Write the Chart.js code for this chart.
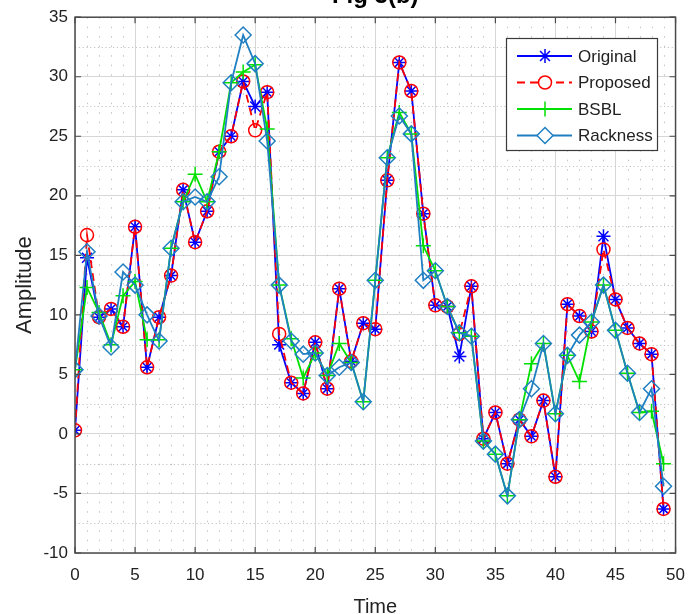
<!DOCTYPE html>
<html>
<head>
<meta charset="utf-8">
<title>Fig 3(b)</title>
<script src="https://cdn.jsdelivr.net/npm/chart.js@4.4.0/dist/chart.umd.min.js"></script>
<style>
    body { margin: 0; background: #fff; }
    #wrap { width: 697px; height: 614px; }
</style>
</head>
<body>
<div id="wrap"><canvas id="sig_chart" width="697" height="614"></canvas></div>
<script>
// sample index 0..49
var time = [];
for (var i = 0; i < 50; i++) time.push(i);

var original = [0.3, 14.8, 9.8, 10.5, 9.0, 17.4, 5.6, 9.8, 13.3, 20.5,
    16.1, 18.7, 23.7, 25.0, 29.6, 27.5, 28.7, 7.5, 4.3, 3.4,
    7.7, 3.8, 12.2, 6.1, 9.3, 8.8, 21.3, 31.2, 28.8, 18.5,
    10.8, 10.7, 6.5, 12.4, -0.4, 1.8, -2.5, 1.2, -0.2, 2.8,
    -3.6, 10.9, 9.9, 8.6, 16.6, 11.3, 8.9, 7.6, 6.7, -6.3];

var proposed = [0.3, 16.7, 9.8, 10.5, 9.0, 17.4, 5.6, 9.8, 13.3, 20.5,
    16.1, 18.7, 23.7, 25.0, 29.6, 25.5, 28.7, 8.4, 4.3, 3.4,
    7.7, 3.8, 12.2, 6.1, 9.3, 8.8, 21.3, 31.2, 28.8, 18.5,
    10.8, 10.7, 8.4, 12.4, -0.4, 1.8, -2.5, 1.2, -0.2, 2.8,
    -3.6, 10.9, 9.9, 8.6, 15.5, 11.3, 8.9, 7.6, 6.7, -6.3];

var bsbl = [5.4, 12.3, 10.2, 7.5, 11.6, 12.8, 7.9, 7.9, 15.6, 19.5,
    21.8, 19.5, 23.7, 29.5, 30.4, 31.0, 25.6, 12.5, 8.0, 4.7,
    6.8, 4.9, 7.6, 6.0, 2.7, 12.9, 23.2, 27.0, 25.2, 15.8,
    13.7, 10.7, 8.5, 8.2, -0.6, -1.7, -5.2, 1.2, 5.9, 7.6,
    1.7, 6.6, 4.4, 9.4, 12.5, 8.7, 5.1, 1.8, 1.9, -2.5];

var rackness = [5.4, 15.3, 9.9, 7.3, 13.6, 12.5, 10.0, 7.8, 15.6, 19.5,
    19.9, 19.5, 21.6, 29.5, 33.5, 31.1, 24.6, 12.5, 7.8, 6.7,
    6.8, 4.9, 5.6, 6.0, 2.7, 12.9, 23.2, 26.7, 25.2, 12.9,
    13.7, 10.7, 8.5, 8.2, -0.6, -1.7, -5.2, 1.2, 3.8, 7.6,
    1.7, 6.6, 8.3, 9.4, 12.5, 8.7, 5.1, 1.8, 3.8, -4.4];

var xTicks = [0, 5, 10, 15, 20, 25, 30, 35, 40, 45, 50];
var yTicks = [-10, -5, 0, 5, 10, 15, 20, 25, 30, 35];

var FONT = "'Liberation Sans', Arial, Helvetica, sans-serif";
var RACK_COLOR = '#1f7fc2';

function toPoints(arr) {
    var pts = [];
    for (var k = 0; k < arr.length; k++) pts.push({x: time[k], y: arr[k]});
    return pts;
}

var series = [
    {label: 'Original', data: original, color: '#0000ff', style: 'star', radius: 7, dash: [], order: 4},
    {label: 'Proposed', data: proposed, color: '#ff0000', style: 'circle', radius: 6.5, dash: [8, 5], order: 3},
    {label: 'BSBL', data: bsbl, color: '#00e000', style: 'cross', radius: 7.5, dash: [], order: 2},
    {label: 'Rackness', data: rackness, color: RACK_COLOR, style: 'rectRot', radius: 8, dash: [], order: 1}
];

var datasets = series.map(function (s) {
    return {
        label: s.label,
        data: toPoints(s.data),
        borderColor: s.color,
        backgroundColor: 'rgba(0,0,0,0)',
        borderWidth: 1.8,
        borderDash: s.dash,
        pointStyle: s.style,
        pointRadius: s.radius,
        pointBorderColor: s.color,
        pointBackgroundColor: 'rgba(0,0,0,0)',
        pointBorderWidth: 1.5,
        tension: 0,
        order: s.order
    };
});

// dotted minor grid, x every 1 and y every 2.5
var minorGrid = {
    id: 'minorGrid',
    beforeDatasetsDraw: function (chart) {
        var ctx = chart.ctx, a = chart.chartArea;
        var xs = chart.scales.x, ys = chart.scales.y;
        ctx.save();
        ctx.lineWidth = 1;
        ctx.strokeStyle = '#c4c4c4';
        ctx.setLineDash([1.5, 8]);
        for (var v = 1; v < 50; v++) {
            if (v % 5 == 0) continue;
            var px = Math.round(xs.getPixelForValue(v)) + 0.5;
            ctx.beginPath();
            ctx.moveTo(px, a.top);
            ctx.lineTo(px, a.bottom);
            ctx.stroke();
        }
        ctx.setLineDash([1.2, 2.6]);
        for (var w = -7.5; w < 35; w += 5) {
            var py = Math.round(ys.getPixelForValue(w)) + 0.5;
            ctx.beginPath();
            ctx.moveTo(a.left, py);
            ctx.lineTo(a.right, py);
            ctx.stroke();
        }
        ctx.restore();
    }
};

// box with inward ticks, legend, title
var frame = {
    id: 'frame',
    afterDraw: function (chart) {
        var ctx = chart.ctx, a = chart.chartArea;
        var xs = chart.scales.x, ys = chart.scales.y;
        ctx.save();
        ctx.strokeStyle = '#4a4a4a';
        ctx.lineWidth = 1.5;
        ctx.strokeRect(a.left, a.top, a.right - a.left, a.bottom - a.top);
        ctx.lineWidth = 1.2;
        ctx.beginPath();
        xTicks.forEach(function (t) {
            var px = xs.getPixelForValue(t);
            ctx.moveTo(px, a.bottom); ctx.lineTo(px, a.bottom - 6);
            ctx.moveTo(px, a.top); ctx.lineTo(px, a.top + 6);
        });
        yTicks.forEach(function (t) {
            var py = ys.getPixelForValue(t);
            ctx.moveTo(a.left, py); ctx.lineTo(a.left + 6, py);
            ctx.moveTo(a.right, py); ctx.lineTo(a.right - 6, py);
        });
        ctx.stroke();

        // title, mostly above the canvas edge
        ctx.fillStyle = '#000';
        ctx.font = 'bold 24px ' + FONT;
        ctx.textAlign = 'center';
        ctx.textBaseline = 'alphabetic';
        ctx.fillText('Fig 3(b)', (a.left + a.right) / 2, 3);

        // legend
        var bx = 506, by = 38, bw = 151, bh = 112;
        ctx.fillStyle = '#fff';
        ctx.fillRect(bx, by, bw, bh);
        ctx.strokeStyle = '#3a3a3a';
        ctx.lineWidth = 1.2;
        ctx.strokeRect(bx + 0.5, by + 0.5, bw, bh);
        ctx.font = '17px ' + FONT;
        ctx.textAlign = 'left';
        ctx.textBaseline = 'middle';
        series.forEach(function (s, n) {
            var ry = by + 18 + n * 26.5;
            ctx.strokeStyle = s.color;
            ctx.lineWidth = 1.8;
            ctx.setLineDash(s.dash);
            ctx.beginPath();
            ctx.moveTo(bx + 11, ry);
            ctx.lineTo(bx + 66, ry);
            ctx.stroke();
            ctx.setLineDash([]);
            ctx.lineWidth = 1.5;
            ctx.fillStyle = 'rgba(0,0,0,0)';
            // white behind the marker so the line doesn't cross circle/diamond
            if (s.style == 'circle' || s.style == 'rectRot') {
                ctx.fillStyle = '#fff';
            }
            Chart.helpers.drawPoint(ctx, {
                pointStyle: s.style, radius: s.radius, borderWidth: 1.5, rotation: 0
            }, bx + 39, ry);
            ctx.fillStyle = '#222';
            ctx.fillText(s.label, bx + 72, ry + 1);
        });
        ctx.restore();
    }
};

new Chart(document.getElementById('sig_chart').getContext('2d'), {
    type: 'line',
    data: {datasets: datasets},
    plugins: [minorGrid, frame],
    options: {
        responsive: false,
        animation: false,
        devicePixelRatio: 1,
        layout: {padding: {top: 17, right: 20, left: 0, bottom: 0}},
        plugins: {
            legend: {display: false},
            tooltip: {enabled: false}
        },
        scales: {
            x: {
                type: 'linear',
                min: 0,
                max: 50,
                afterFit: function (scale) { scale.height = 61; },
                afterBuildTicks: function (scale) {
                    scale.ticks = xTicks.map(function (v) { return {value: v}; });
                },
                ticks: {
                    color: '#222',
                    padding: 12,
                    font: {family: FONT, size: 17},
                    maxRotation: 0
                },
                grid: {color: '#d6d6d6', drawTicks: false},
                border: {display: false},
                title: {
                    display: true,
                    text: 'Time',
                    color: '#222',
                    font: {family: FONT, size: 20, lineHeight: 0.7},
                    padding: {top: 0, bottom: 0}
                }
            },
            y: {
                type: 'linear',
                min: -10,
                max: 35,
                afterFit: function (scale) { scale.width = 75; },
                afterBuildTicks: function (scale) {
                    scale.ticks = yTicks.map(function (v) { return {value: v}; });
                },
                ticks: {
                    color: '#222',
                    padding: 7,
                    font: {family: FONT, size: 17}
                },
                grid: {color: '#d6d6d6', drawTicks: false},
                border: {display: false},
                title: {
                    display: true,
                    text: 'Amplitude',
                    color: '#222',
                    font: {family: FONT, size: 22, lineHeight: 1},
                    padding: {top: 14, bottom: 0}
                }
            }
        }
    }
});
</script>
</body>
</html>
